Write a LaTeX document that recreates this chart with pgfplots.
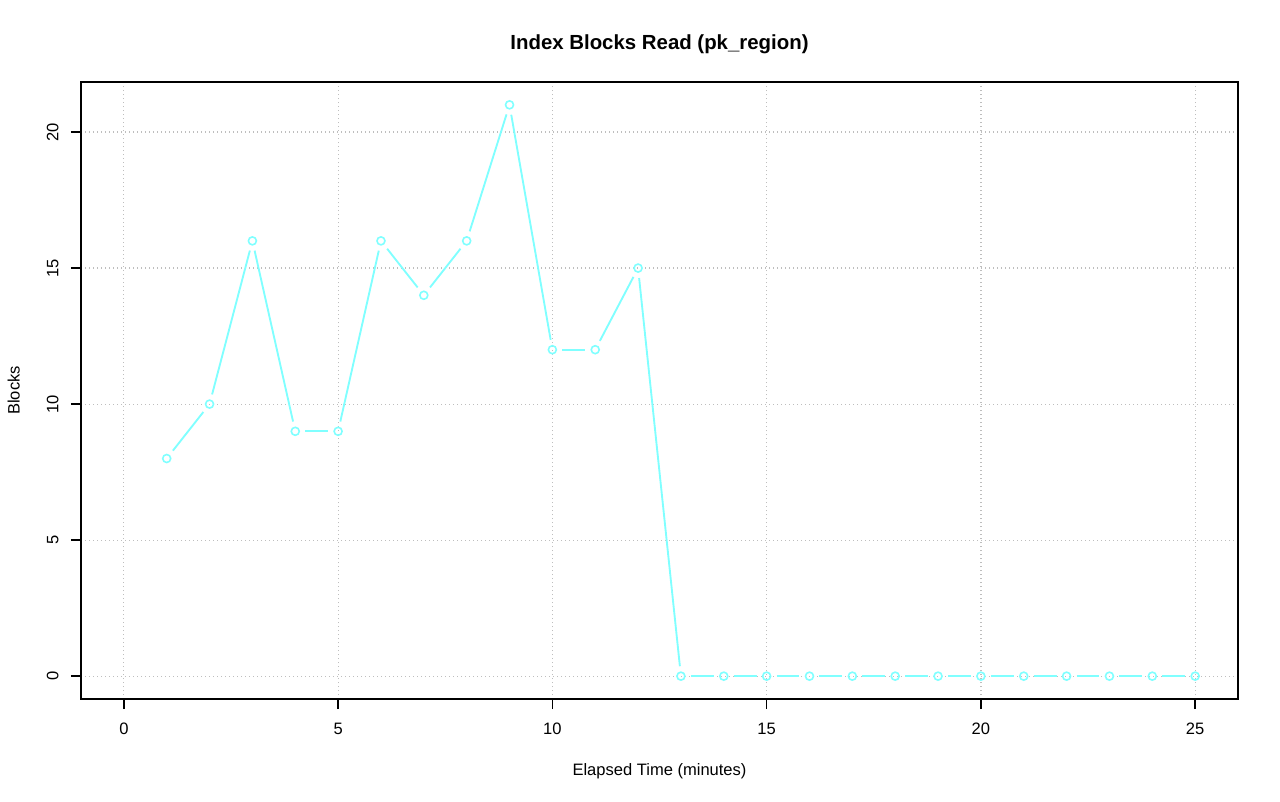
\documentclass[border=0pt]{standalone}
\usepackage{fontspec}
\setmainfont{Liberation Sans}
\usepackage{pgfplots}
\pgfplotsset{compat=1.18}

\definecolor{rcyan}{RGB}{128,255,255}
\definecolor{rgrid}{RGB}{190,190,190}

\begin{document}
\begin{tikzpicture}[x=1pt,y=1pt]
\useasboundingbox (0,0) rectangle (960,600.75);
\begin{axis}[
  at={(60.75pt,76.5pt)}, anchor=south west,
  scale only axis,
  width=867.75pt, height=462.75pt,
  xmin=-1, xmax=26,
  ymin=-0.84, ymax=21.84,
  xtick={0,5,10,15,20,25},
  ytick={0,5,10,15,20},
  tick align=outside,
  major tick length=7.5pt,
  tick style={black, line width=1pt},
  axis line style={line width=1pt},
  xtick pos=bottom, ytick pos=left,
  grid=major,
  major grid style={rgrid, line width=0.9pt, dash pattern=on 0.8pt off 2.2pt},
  font=\fontsize{12.4}{14}\selectfont,
  ticklabel style={font=\fontsize{12.4}{14}\selectfont},
  /pgf/number format/assume math mode=true,
  xticklabel style={anchor=base, yshift=-19pt},
  yticklabel style={rotate=90, anchor=base, yshift=9.5pt},
  clip=false,
  title={\fontsize{15.3}{18}\selectfont\bfseries Index Blocks Read (pk\_region)},
  title style={at={(axis description cs:0.5,1)}, anchor=base, yshift=18pt},
  xlabel={Elapsed Time (minutes)},
  xlabel style={at={(axis description cs:0.5,0)}, anchor=base, yshift=-57pt},
  ylabel={Blocks},
  ylabel style={at={(axis description cs:0,0.5)}, anchor=base, yshift=46pt},
  seg/.style={rcyan, line width=1.4pt, shorten <=7.5pt, shorten >=7.5pt, mark=none},
]
\addplot[seg] coordinates {(1,8) (2,10)};
\addplot[seg] coordinates {(2,10) (3,16)};
\addplot[seg] coordinates {(3,16) (4,9)};
\addplot[seg] coordinates {(4,9) (5,9)};
\addplot[seg] coordinates {(5,9) (6,16)};
\addplot[seg] coordinates {(6,16) (7,14)};
\addplot[seg] coordinates {(7,14) (8,16)};
\addplot[seg] coordinates {(8,16) (9,21)};
\addplot[seg] coordinates {(9,21) (10,12)};
\addplot[seg] coordinates {(10,12) (11,12)};
\addplot[seg] coordinates {(11,12) (12,15)};
\addplot[seg] coordinates {(12,15) (13,0)};
\addplot[seg] coordinates {(13,0) (14,0)};
\addplot[seg] coordinates {(14,0) (15,0)};
\addplot[seg] coordinates {(15,0) (16,0)};
\addplot[seg] coordinates {(16,0) (17,0)};
\addplot[seg] coordinates {(17,0) (18,0)};
\addplot[seg] coordinates {(18,0) (19,0)};
\addplot[seg] coordinates {(19,0) (20,0)};
\addplot[seg] coordinates {(20,0) (21,0)};
\addplot[seg] coordinates {(21,0) (22,0)};
\addplot[seg] coordinates {(22,0) (23,0)};
\addplot[seg] coordinates {(23,0) (24,0)};
\addplot[seg] coordinates {(24,0) (25,0)};
\addplot[only marks, mark=o, mark size=3pt, mark options={rcyan, line width=1.2pt}]
  coordinates {
  (1,8) (2,10) (3,16) (4,9) (5,9) (6,16) (7,14) (8,16) (9,21) (10,12)
  (11,12) (12,15) (13,0) (14,0) (15,0) (16,0) (17,0) (18,0) (19,0)
  (20,0) (21,0) (22,0) (23,0) (24,0) (25,0)};
\end{axis}
\end{tikzpicture}
\end{document}
